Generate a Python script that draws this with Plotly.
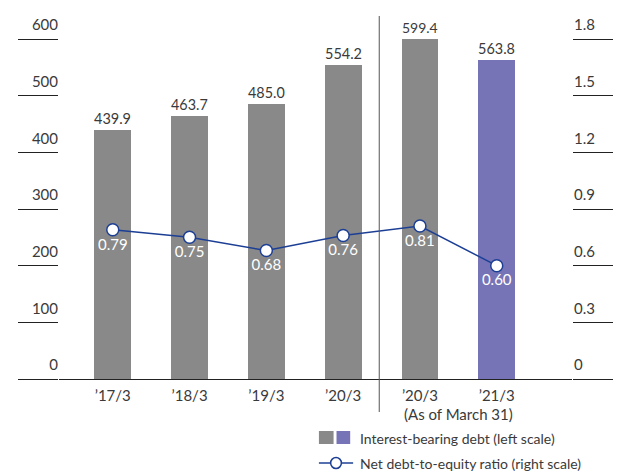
import plotly.graph_objects as go

# ---- data ----
categories = ["\u201917/3", "\u201918/3", "\u201919/3", "\u201920/3", "\u201920/3", "\u201921/3"]
debt = [439.9, 463.7, 485.0, 554.2, 599.4, 563.8]
ratio = [0.79, 0.75, 0.68, 0.76, 0.81, 0.60]
left_ticks = [0, 100, 200, 300, 400, 500, 600]
right_ticks = [0, 0.3, 0.6, 0.9, 1.2, 1.5, 1.8]
right_tick_labels = ["0", "0.3", "0.6", "0.9", "1.2", "1.5", "1.8"]
legend_bar_label = "Interest-bearing debt (left scale)"
legend_line_label = "Net debt-to-equity ratio (right scale)"
sub_label = "(As of March 31)"

# ---- style ----
FONT = "Lato"
GRAY = "#898989"
PURPLE = "#7674b6"
BLUE = "#1c3f95"
TXT = "#3a3a3a"
AX = "#222222"

xs = list(range(len(categories)))
bar_colors = [GRAY] * (len(categories) - 1) + [PURPLE]

L, R, T, B = 59, 40, 39, 94
W, H = 624, 473
pw, ph = W - L - R, H - T - B


def px(x):
    return (x - L) / pw


def py(y):
    return (H - B - y) / ph


fig = go.Figure()
fig.add_trace(go.Bar(
    x=xs, y=debt, width=0.48, marker=dict(color=bar_colors, line=dict(width=0)),
    text=[f"{v:.1f}" for v in debt], textposition="outside",
    textfont=dict(family=FONT, size=15, color=TXT), cliponaxis=False,
    showlegend=False, hoverinfo="skip",
))
fig.add_trace(go.Scatter(
    x=xs, y=ratio, yaxis="y2", mode="lines+markers+text",
    line=dict(color=BLUE, width=1.5),
    marker=dict(size=12, color="white", line=dict(color=BLUE, width=1.5)),
    text=[f"{v:.2f}" for v in ratio], textposition="bottom center",
    textfont=dict(family=FONT, size=15, color="white"), cliponaxis=False,
    showlegend=False, hoverinfo="skip",
))

fig.update_layout(
    width=W, height=H, margin=dict(l=L, r=R, t=T, b=B),
    paper_bgcolor="white", plot_bgcolor="white",
    font=dict(family=FONT, size=15, color=TXT),
    xaxis=dict(range=[-0.70, 5.98], tickvals=xs, ticktext=categories,
               showline=True, linecolor=AX, linewidth=1, ticks="",
               showgrid=False, zeroline=False, ticklabelstandoff=3,
               tickfont=dict(family=FONT, size=15, color=TXT)),
    yaxis=dict(range=[0, 600], tickvals=left_ticks, ticks="outside", ticklen=40,
               tickcolor=AX, tickwidth=1, showline=False, showgrid=False,
               zeroline=False, ticklabelstandoff=-43, ticklabelshift=-14,
               tickfont=dict(family=FONT, size=15, color=TXT)),
    yaxis2=dict(range=[0, 1.8], tickvals=right_ticks, ticktext=right_tick_labels,
                overlaying="y", side="right", ticks="outside", ticklen=40,
                tickcolor=AX, tickwidth=1, showline=False, showgrid=False,
                zeroline=False, ticklabelstandoff=-42, ticklabelshift=-14,
                tickfont=dict(family=FONT, size=15, color=TXT)),
    bargap=0,
)

# separator line between the two groups
fig.add_shape(type="line", xref="x", yref="paper", x0=3.47, x1=3.47,
              y0=py(412), y1=py(16), line=dict(color="#555555", width=1))

# sub label under last two categories
fig.add_annotation(x=4.5, xref="x", y=py(414), yref="paper", text=sub_label,
                   showarrow=False, font=dict(family=FONT, size=15, color=TXT),
                   xanchor="center", yanchor="middle")

# custom legend
fig.add_shape(type="rect", xref="paper", yref="paper", x0=px(325), x1=px(340),
              y0=py(444), y1=py(431), fillcolor=GRAY, line=dict(width=0))
fig.add_shape(type="rect", xref="paper", yref="paper", x0=px(343), x1=px(357),
              y0=py(444), y1=py(431), fillcolor=PURPLE, line=dict(width=0))
fig.add_shape(type="line", xref="paper", yref="paper", x0=px(325), x1=px(360),
              y0=py(463), y1=py(463), line=dict(color=BLUE, width=1.5))
fig.add_shape(type="circle", xref="paper", yref="paper", x0=px(337), x1=px(348),
              y0=py(468.5), y1=py(457.5), fillcolor="white",
              line=dict(color=BLUE, width=1.5))
fig.add_annotation(x=px(365), y=py(438), xref="paper", yref="paper",
                   text=legend_bar_label, showarrow=False, xanchor="left",
                   yanchor="middle", font=dict(family=FONT, size=14, color=TXT))
fig.add_annotation(x=px(365), y=py(463), xref="paper", yref="paper",
                   text=legend_line_label, showarrow=False, xanchor="left",
                   yanchor="middle", font=dict(family=FONT, size=14, color=TXT))

fig.write_html("out.html", config={"displayModeBar": False},
               post_script="document.body.style.margin='0';"
                           "document.body.style.overflow='hidden';")
